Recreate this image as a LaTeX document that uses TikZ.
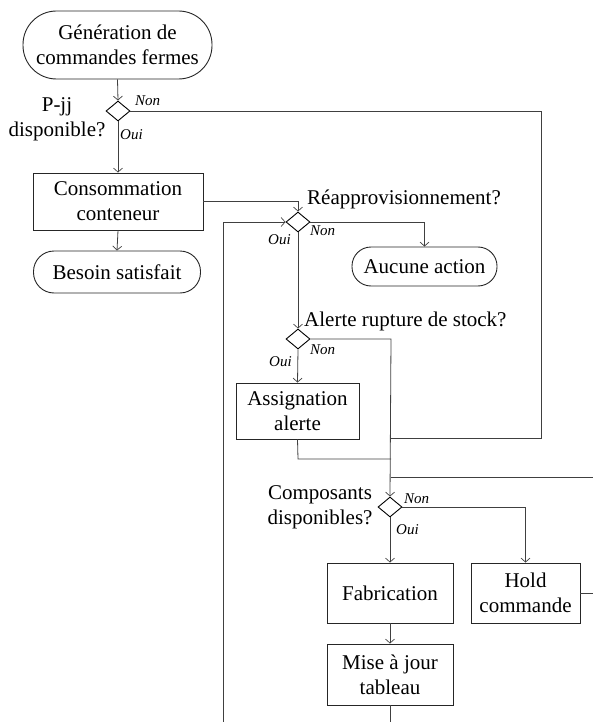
\documentclass[tikz,border=0pt]{standalone}
\usepackage{fontspec}
\setmainfont{LiberationSerif}[Extension=.ttf, UprightFont=*-Regular, ItalicFont=*-Italic, BoldFont=*-Bold, BoldItalicFont=*-BoldItalic]
\usetikzlibrary{arrows.meta,shapes.geometric}
\begin{document}
\begin{tikzpicture}[x=1pt,y=-1pt,
  every node/.style={font=\fontsize{21}{25}\selectfont, text=black},
  box/.style={draw=black!85, line width=0.9pt, rectangle, inner sep=0pt, align=center},
  term/.style={box, rounded corners=#1},
  dec/.style={draw=black, line width=0.9pt, diamond, inner sep=0pt, minimum width=24pt, minimum height=20pt},
  lab/.style={font=\fontsize{15}{17}\itshape\selectfont, inner sep=0pt},
  qtext/.style={align=center, inner sep=0pt},
  conn/.style={draw=black!75, line width=0.8pt},
  arr/.style={conn, -{Straight Barb[length=4pt,width=9pt,line width=0.7pt]}}
]
\useasboundingbox (0,0) rectangle (593,722);

% nodes
\node[term=33.5pt, minimum width=189pt, minimum height=68pt] (gen) at (117.5,45) {Génération de\\commandes fermes};
\node[dec] (d1) at (118,111) {};
\node[box, minimum width=170pt, minimum height=57pt] (cons) at (118,201.5) {Consommation\\conteneur};
\node[term=20.5pt, minimum width=167pt, minimum height=42pt] (bes) at (117,272) {Besoin satisfait};
\node[dec] (d2) at (298,222) {};
\node[term=19pt, minimum width=145pt, minimum height=39pt] (auc) at (424.5,266.5) {Aucune action};
\node[dec] (d3) at (298,339) {};
\node[box, minimum width=123pt, minimum height=56pt] (ass) at (297.5,411) {Assignation\\alerte};
\node[dec] (d4) at (390,507) {};
\node[box, minimum width=126pt, minimum height=60pt] (fab) at (390,593) {Fabrication};
\node[box, minimum width=109pt, minimum height=60pt] (hold) at (525.5,593) {Hold\\commande};
\node[box, minimum width=126pt, minimum height=61pt] (maj) at (390,674.5) {Mise à jour\\tableau};

% question texts
\node[qtext] (q1) at (57,119) {P-jj\\disponible?};
\node[qtext, anchor=west] (q2) at (307,199) {Réapprovisionnement?};
\node[qtext, anchor=west] (q3) at (304,321) {Alerte rupture de stock?};
\node[qtext] (q4) at (320,507) {Composants\\disponibles?};

% yes/no labels
\node[lab, anchor=west] (n1) at (135,101) {Non};
\node[lab, anchor=west] (o1) at (120,135) {Oui};
\node[lab, anchor=west] (n2) at (310,231) {Non};
\node[lab, anchor=west] (o2) at (268,240) {Oui};
\node[lab, anchor=west] (n3) at (310,350) {Non};
\node[lab, anchor=west] (o3) at (269,362) {Oui};
\node[lab, anchor=west] (n4) at (404,499) {Non};
\node[lab, anchor=west] (o4) at (396,530) {Oui};

% coordinates
\coordinate (c1) at (541,111);
\coordinate (c2) at (541,438);
\coordinate (j1) at (391,438);
\coordinate (c3) at (298,201.5);
\coordinate (lb) at (223,722);
\coordinate (lt) at (223,222);
\coordinate (c4) at (424.5,222);
\coordinate (c5) at (391,339);
\coordinate (c6) at (298,459);
\coordinate (j2) at (391,459);
\coordinate (r1) at (593,477);
\coordinate (j3) at (391,477);
\coordinate (c7) at (525.5,507);
\coordinate (mb) at (390,722);
\coordinate (hr) at (593,593);

% connectors
\draw[arr] (gen.south) -- (d1.north);
\draw[arr] (d1.south) -- (cons.north);
\draw[conn] (d1.east) -- (c1) -- (c2) -- (j1);
\draw[arr] (cons.south) -- (bes.north);
\draw[arr] (cons.east) -- (c3) -- (d2.north);
\draw[arr] (lb) -- (lt) -- (d2.west);
\draw[arr] (d2.east) -- (c4) -- (auc.north);
\draw[arr] (d2.south) -- (d3.north);
\draw[arr] (d3.east) -- (c5) -- (d4.north);
\draw[arr] (d3.south) -- (ass.north);
\draw[conn] (ass.south) -- (c6) -- (j2);
\draw[conn] (r1) -- (j3);
\draw[arr] (d4.east) -- (c7) -- (hold.north);
\draw[arr] (d4.south) -- (fab.north);
\draw[arr] (fab.south) -- (maj.north);
\draw[conn] (maj.south) -- (mb);
\draw[conn] (hold.east) -- (hr);
\end{tikzpicture}
\end{document}
